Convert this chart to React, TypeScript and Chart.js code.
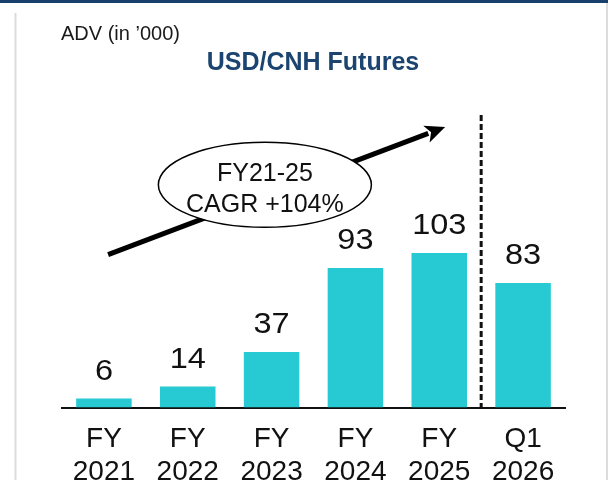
import React, { useEffect, useRef } from "react";
import { Chart, registerables } from "chart.js";

Chart.register(...registerables);

// ---- data ----
const categories: string[][] = [
  ["FY", "2021"],
  ["FY", "2022"],
  ["FY", "2023"],
  ["FY", "2024"],
  ["FY", "2025"],
  ["Q1", "2026"],
];
const advValues: number[] = [6, 14, 37, 93, 103, 83];
const yAxisMax = 195;
const unitLabel = "ADV (in \u2019000)";
const chartTitle = "USD/CNH Futures";
const cagrLines: string[] = ["FY21-25", "CAGR +104%"];
// annotation anchors in data space (category index, value)
const arrowFrom = { x: 0.05, y: 102 };
const arrowTo = { x: 4.07, y: 187 };
const ellipseAt = { x: 1.92, y: 148.5 };
const dividerAt = 4.5;

const FONT = "'Liberation Sans', Arial, Helvetica, sans-serif";
const BAR_COLOR = "#27C9D3";
const NAVY = "#17406D";

const decorPlugin = {
  id: "decor",
  beforeDraw(chart: any) {
    const { ctx, width } = chart;
    ctx.save();
    ctx.fillStyle = "#ffffff";
    ctx.fillRect(0, 0, width, chart.height);
    // top navy band
    ctx.fillStyle = NAVY;
    ctx.fillRect(0, 0, width, 3);
    // side gray rules
    ctx.fillStyle = "#dcdcdc";
    ctx.fillRect(14.5, 13, 2, 470);
    ctx.fillRect(606, 3, 2, 480);
    // unit label
    ctx.fillStyle = "#1a1a1a";
    ctx.font = `20px ${FONT}`;
    ctx.textAlign = "left";
    ctx.textBaseline = "middle";
    ctx.fillText(unitLabel, 61, 34);
    // title
    ctx.fillStyle = "#1B4470";
    ctx.font = `bold 25px ${FONT}`;
    ctx.textAlign = "center";
    ctx.fillText(chartTitle, 313, 63);
    ctx.restore();
  },
  beforeDatasetsDraw(chart: any) {
    const { ctx, chartArea } = chart;
    const xs = chart.scales.x;
    const ys = chart.scales.y;
    ctx.save();
    // divider dashed line
    const dx = xs.getPixelForValue(dividerAt);
    ctx.strokeStyle = "#111";
    ctx.lineWidth = 3;
    ctx.setLineDash([6, 3]);
    ctx.beginPath();
    ctx.moveTo(dx, chartArea.top);
    ctx.lineTo(dx, chartArea.bottom);
    ctx.stroke();
    ctx.setLineDash([]);

    // arrow
    const x1 = xs.getPixelForValue(arrowFrom.x);
    const y1 = ys.getPixelForValue(arrowFrom.y);
    const x2 = xs.getPixelForValue(arrowTo.x);
    const y2 = ys.getPixelForValue(arrowTo.y);
    const ang = Math.atan2(y2 - y1, x2 - x1);
    const headLen = 20;
    const headHalf = 9;
    const bx = x2 - headLen * Math.cos(ang);
    const by = y2 - headLen * Math.sin(ang);
    ctx.strokeStyle = "#000";
    ctx.lineWidth = 5;
    ctx.beginPath();
    ctx.moveTo(x1, y1);
    ctx.lineTo(bx + 2 * Math.cos(ang), by + 2 * Math.sin(ang));
    ctx.stroke();
    ctx.fillStyle = "#000";
    ctx.beginPath();
    ctx.moveTo(x2, y2);
    ctx.lineTo(bx + headHalf * Math.sin(ang), by - headHalf * Math.cos(ang));
    ctx.lineTo(bx + 5 * Math.cos(ang), by + 5 * Math.sin(ang));
    ctx.lineTo(bx - headHalf * Math.sin(ang), by + headHalf * Math.cos(ang));
    ctx.closePath();
    ctx.fill();

    // ellipse
    const ex = xs.getPixelForValue(ellipseAt.x);
    const ey = ys.getPixelForValue(ellipseAt.y);
    ctx.beginPath();
    ctx.ellipse(ex, ey, 106.5, 42.5, 0, 0, Math.PI * 2);
    ctx.fillStyle = "#fff";
    ctx.fill();
    ctx.lineWidth = 1.5;
    ctx.strokeStyle = "#000";
    ctx.stroke();
    ctx.fillStyle = "#111";
    ctx.font = `25px ${FONT}`;
    ctx.textAlign = "center";
    ctx.textBaseline = "middle";
    ctx.fillText(cagrLines[0], ex, ey - 11);
    ctx.fillText(cagrLines[1], ex, ey + 20);
    ctx.restore();
  },
  afterDatasetsDraw(chart: any) {
    const { ctx } = chart;
    const meta = chart.getDatasetMeta(0);
    ctx.save();
    ctx.fillStyle = "#111";
    ctx.font = `29px ${FONT}`;
    ctx.textAlign = "center";
    ctx.textBaseline = "middle";
    meta.data.forEach((bar: any, i: number) => {
      ctx.save();
      ctx.translate(bar.x, bar.y - 27);
      ctx.scale(1.12, 1);
      ctx.fillText(String(advValues[i]), 0, 0);
      ctx.restore();
    });
    ctx.restore();
  },
};

export default function App() {
  const ref = useRef<HTMLCanvasElement>(null);
  useEffect(() => {
    if (!ref.current) return;
    const chart = new Chart(ref.current, {
      type: "bar",
      data: {
        labels: categories,
        datasets: [
          {
            data: advValues,
            backgroundColor: BAR_COLOR,
            borderWidth: 0,
            barPercentage: 0.662,
            categoryPercentage: 1,
          },
        ],
      },
      options: {
        responsive: false,
        animation: false,
        devicePixelRatio: 1,
        layout: { padding: { left: 62, right: 43, top: 115, bottom: 0 } },
        plugins: {
          legend: { display: false },
          tooltip: { enabled: false },
          title: { display: false },
        },
        scales: {
          x: {
            grid: { display: false, drawTicks: false },
            border: { display: true, color: "#111", width: 2 },
            ticks: {
              color: "#111",
              padding: 16,
              font: { family: FONT, size: 28, lineHeight: 1.15 },
              maxRotation: 0,
              autoSkip: false,
            },
          },
          y: {
            display: false,
            min: 0,
            max: yAxisMax,
          },
        },
      },
      plugins: [decorPlugin],
    });
    return () => chart.destroy();
  }, []);
  return (
    <div
      style={{
        position: "fixed",
        left: 0,
        top: 0,
        width: 608,
        height: 480,
        overflow: "hidden",
        background: "#fff",
      }}
    >
      <canvas ref={ref} width={608} height={504} style={{ display: "block" }} />
    </div>
  );
}
